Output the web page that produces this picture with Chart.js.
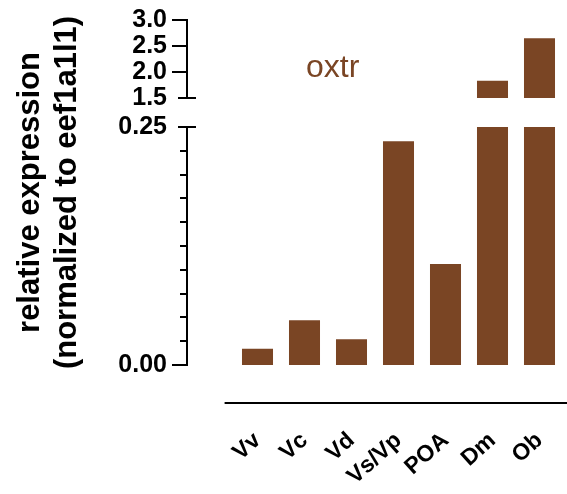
<!DOCTYPE html>
<html>
<head>
<meta charset="utf-8">
<script src="https://cdn.jsdelivr.net/npm/chart.js@4/dist/chart.umd.min.js"></script>
<style>
  html, body { margin: 0; padding: 0; background: #fff; }
</style>
</head>
<body>
<canvas id="chart" width="567" height="494"></canvas>
<script>
// brain regions and oxtr expression (normalized to eef1a1l1)
const regions = ['Vv', 'Vc', 'Vd', 'Vs/Vp', 'POA', 'Dm', 'Ob'];
const expression = [0.017, 0.047, 0.027, 0.235, 0.106, 1.83, 2.65];

// the y axis is broken in two parts
const lowerRange = [0, 0.25];
const upperRange = [1.5, 3.0];
const lowerLabels = ['0.00', '0.25'];

const gene = 'oxtr';
const titleLines = ['relative expression', '(normalized to eef1a1l1)'];

const brown = '#7a4524';
const labelFont = { family: 'Liberation Sans, Arial, sans-serif', weight: 'bold', size: 25 };

// lower part: every bar, cut at the top of the lower range
const lowerBars = expression.map((v, i) => ({ x: i, y: Math.min(v, lowerRange[1]) }));
// upper part: only the bars that reach past the break
const upperBars = expression
  .map((v, i) => (v > upperRange[0] ? { x: i, y: [upperRange[0], v] } : null))
  .filter(Boolean);

const noPadding = s => {
  s.paddingLeft = 0;
  s.paddingRight = 0;
  s.paddingTop = 0;
  s.paddingBottom = 0;
};

// tick marks, caps at the break, the detached x axis line and the texts
const brokenAxis = {
  id: 'brokenAxis',
  afterDraw(chart) {
    const ctx = chart.ctx;
    const xs = chart.scales.x;
    const yUp = chart.scales.yUp;
    const yLow = chart.scales.yLow;
    ctx.save();
    ctx.strokeStyle = '#000';
    ctx.lineWidth = 2;
    [[yUp, 'min'], [yLow, 'max']].forEach(([scale, edge]) => {
      const x = scale.right;
      scale.ticks.forEach(t => {
        const y = Math.round(scale.getPixelForValue(t.value));
        let x1 = x - (t.label ? 15 : 7);
        let x2 = x;
        if (Math.abs(t.value - scale[edge]) < 1e-9) { x1 = x - 9; x2 = x + 9; }
        ctx.beginPath();
        ctx.moveTo(x1, y);
        ctx.lineTo(x2, y);
        ctx.stroke();
      });
    });

    // x axis line, detached from the y axis
    const ly = Math.round(chart.chartArea.bottom);
    ctx.beginPath();
    ctx.moveTo(xs.getPixelForValue(-0.7), ly);
    ctx.lineTo(chart.width, ly);
    ctx.stroke();

    // gene name
    ctx.fillStyle = brown;
    ctx.font = '32px "Liberation Sans", Arial, sans-serif';
    ctx.textAlign = 'center';
    ctx.textBaseline = 'alphabetic';
    ctx.fillText(gene, xs.getPixelForValue(1.6), yUp.getPixelForValue(1.9));

    // y title, two lines
    const cy = (yUp.top + yLow.bottom) / 2;
    ctx.fillStyle = '#000';
    ctx.font = 'bold 31px "Liberation Sans", Arial, sans-serif';
    ctx.textBaseline = 'middle';
    [30, 67].forEach((tx, i) => {
      ctx.save();
      ctx.translate(tx, cy);
      ctx.rotate(-Math.PI / 2);
      ctx.fillText(titleLines[i], 0, 0);
      ctx.restore();
    });
    ctx.restore();
  }
};

const yCommon = {
  type: 'linear',
  position: 'left',
  stack: 'broken',
  grid: { display: false, drawTicks: false },
  border: { display: true, color: '#000', width: 2 },
  afterFit: s => { s.width = 187; noPadding(s); }
};

new Chart(document.getElementById('chart'), {
  type: 'bar',
  data: {
    datasets: [
      {
        data: lowerBars,
        yAxisID: 'yLow',
        backgroundColor: brown,
        borderWidth: 0,
        grouped: false,
        barPercentage: 0.66,
        categoryPercentage: 1.0
      },
      {
        data: upperBars,
        yAxisID: 'yUp',
        backgroundColor: brown,
        borderWidth: 0,
        grouped: false,
        barPercentage: 0.66,
        categoryPercentage: 1.0
      }
    ]
  },
  options: {
    responsive: false,
    animation: false,
    layout: { padding: { top: 20, right: 4, left: 0, bottom: 0 } },
    plugins: { legend: { display: false }, tooltip: { enabled: false } },
    scales: {
      x: {
        type: 'linear',
        offset: false,
        min: -1.5,
        max: regions.length - 0.5,
        grid: { display: false, drawTicks: false, offset: false },
        border: { display: false },
        afterBuildTicks: s => { s.ticks = regions.map((_, i) => ({ value: i })); },
        afterFit: s => { s.height = 91; noPadding(s); },
        ticks: {
          autoSkip: false,
          color: '#000',
          font: { family: 'Liberation Sans, Arial, sans-serif', weight: 'bold', size: 23 },
          minRotation: 42,
          maxRotation: 42,
          padding: 24,
          callback: v => regions[v] ?? ''
        }
      },
      yUp: Object.assign({}, yCommon, {
        weight: 4,
        stackWeight: 78,
        min: upperRange[0],
        max: upperRange[1],
        ticks: {
          autoSkip: false,
          stepSize: 0.5,
          padding: 20,
          color: '#000',
          font: labelFont,
          callback: v => v.toFixed(1)
        }
      }),
      yGap: { type: 'linear', position: 'left', stack: 'broken', weight: 3, stackWeight: 29, display: false },
      yLow: Object.assign({}, yCommon, {
        weight: 2,
        stackWeight: 238,
        min: lowerRange[0],
        max: lowerRange[1],
        ticks: {
          autoSkip: false,
          stepSize: 0.025,
          maxTicksLimit: 20,
          padding: 20,
          color: '#000',
          font: labelFont,
          callback: v => (lowerLabels.includes(v.toFixed(2)) ? v.toFixed(2) : '')
        }
      }),
      yPad: { type: 'linear', position: 'left', stack: 'broken', weight: 1, stackWeight: 38, display: false }
    }
  },
  plugins: [brokenAxis]
});
</script>
</body>
</html>
